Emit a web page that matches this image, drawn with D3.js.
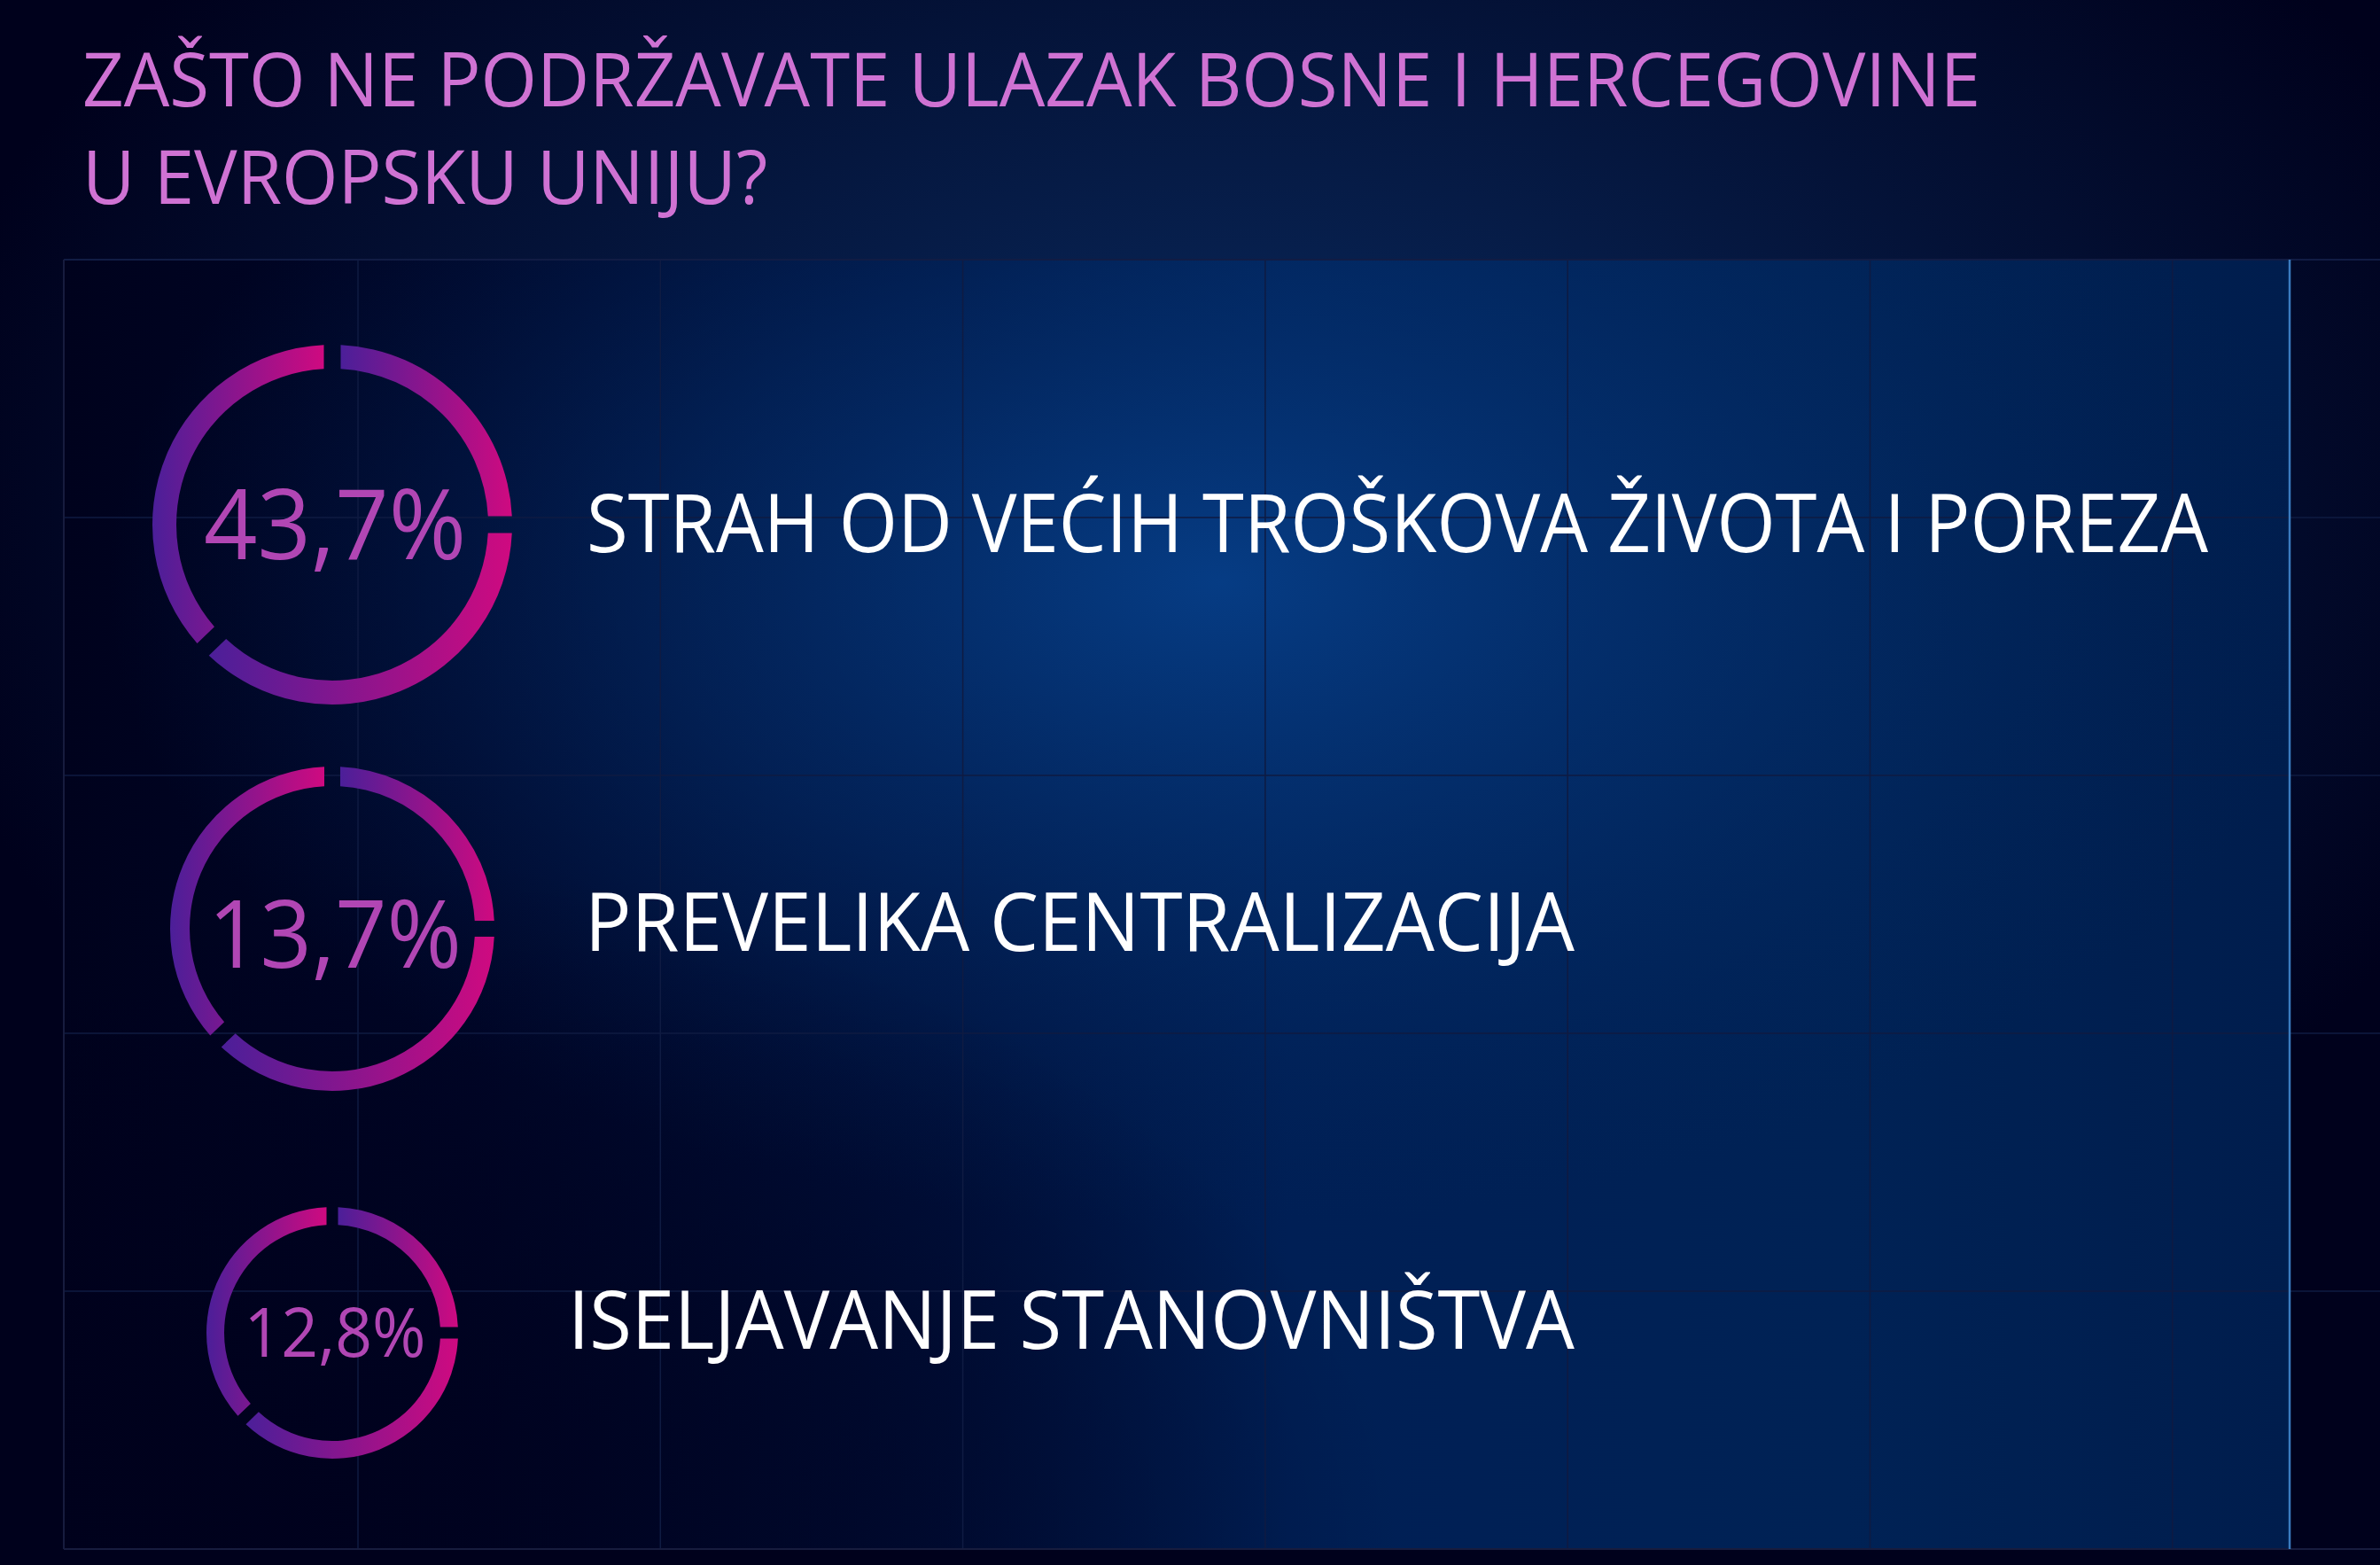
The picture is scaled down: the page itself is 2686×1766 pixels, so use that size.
<!DOCTYPE html>
<html>
<head>
<meta charset="utf-8">
<script src="https://cdn.jsdelivr.net/npm/d3@7"></script>
<style>
	html, body { margin: 0; padding: 0; background: #00011c; overflow: hidden; }
	text { font-family: 'Open Sans', 'Noto Sans', sans-serif; }
</style>
</head>
<body>
<div class="container"></div>
<script>
// data
var titleLines = ['ZAŠTO NE PODRŽAVATE ULAZAK BOSNE I HERCEGOVINE', 'U EVROPSKU UNIJU?'];
var categories = ['STRAH OD VEĆIH TROŠKOVA ŽIVOTA I POREZA', 'PREVELIKA CENTRALIZACIJA', 'ISELJAVANJE STANOVNIŠTVA'];
var shares = [43.7, 13.7, 12.8];
// decorative split of every ring (degrees), gaps at 12, 3 and ~7:30 o'clock
var ringSegments = [90, 136, 134];

// layout
var width = 2686, height = 1766;
var panel = { left: 72, right: 2584, top: 293, bottom: 1748 };
var ringX = 375;
var ringRadius = [203, 183, 142],
	ringWidth = [27, 22, 20],
	ringGap = [19, 18, 13],
	pctSize = [110, 107, 77],
	pctWidth = [296, 286, 205],
	labelX = [662, 660, 641],
	labelWidth = [1830, 1117, 1136];

var svg = d3.select('.container')
	.append('svg')
	.attr('width', width)
	.attr('height', height);

var defs = svg.append('defs');

var bg = defs.append('radialGradient')
	.attr('id', 'bg')
	.attr('cx', 0.52).attr('cy', 0.33).attr('r', 0.56);
bg.append('stop').attr('offset', 0).attr('stop-color', '#0a2c62');
bg.append('stop').attr('offset', 0.5).attr('stop-color', '#05173f');
bg.append('stop').attr('offset', 1).attr('stop-color', '#00011c');

// panel: dark on the left, blue towards the right, plus a glow at the top centre
var shade = defs.append('linearGradient')
	.attr('id', 'panelShade')
	.attr('x1', 0).attr('y1', 0).attr('x2', 1).attr('y2', 0);
shade.append('stop').attr('offset', 0).attr('stop-color', '#00021d');
shade.append('stop').attr('offset', 0.18).attr('stop-color', '#000628');
shade.append('stop').attr('offset', 0.4).attr('stop-color', '#00113d');
shade.append('stop').attr('offset', 0.55).attr('stop-color', '#001f55');
shade.append('stop').attr('offset', 0.8).attr('stop-color', '#002255');
shade.append('stop').attr('offset', 1).attr('stop-color', '#001d4d');

var glow = defs.append('radialGradient')
	.attr('id', 'panelGlow')
	.attr('cx', 0.52).attr('cy', 0.25).attr('r', 0.5);
glow.append('stop').attr('offset', 0).attr('stop-color', '#063c84').attr('stop-opacity', 1);
glow.append('stop').attr('offset', 0.5).attr('stop-color', '#04306e').attr('stop-opacity', 0.55);
glow.append('stop').attr('offset', 1).attr('stop-color', '#022458').attr('stop-opacity', 0);

var corner = defs.append('radialGradient')
	.attr('id', 'panelCorner')
	.attr('cx', 0.05).attr('cy', 1).attr('r', 0.55);
corner.append('stop').attr('offset', 0).attr('stop-color', '#00011c').attr('stop-opacity', 0.9);
corner.append('stop').attr('offset', 0.6).attr('stop-color', '#00011c').attr('stop-opacity', 0.45);
corner.append('stop').attr('offset', 1).attr('stop-color', '#00011c').attr('stop-opacity', 0);

var ringGrad = defs.append('linearGradient')
	.attr('id', 'ringGrad')
	.attr('x1', 0).attr('y1', 0).attr('x2', 1).attr('y2', 0);
ringGrad.append('stop').attr('offset', 0).attr('stop-color', '#4b1f99');
ringGrad.append('stop').attr('offset', 1).attr('stop-color', '#cf0a80');

// Background
svg.append('rect')
	.attr('width', width)
	.attr('height', height)
	.attr('fill', 'url(#bg)');

['url(#panelShade)', 'url(#panelGlow)', 'url(#panelCorner)'].forEach(function (fill) {
	svg.append('rect')
		.attr('x', panel.left)
		.attr('y', panel.top)
		.attr('width', panel.right - panel.left)
		.attr('height', panel.bottom - panel.top)
		.attr('fill', fill);
});

// Grid
var grid = svg.append('g').attr('class', 'grid');
var xGrid = d3.range(0, 7).map(i => 404 + i * 341.3);
var yGrid = d3.range(1, 6).map(i => panel.top + i * (panel.bottom - panel.top) / 5);

grid.selectAll('.vline')
	.data(xGrid)
	.enter().append('line')
	.attr('x1', d => d).attr('x2', d => d)
	.attr('y1', panel.top).attr('y2', panel.bottom)
	.attr('stroke', '#0f1b42')
	.attr('stroke-width', 1.5);

grid.selectAll('.hline')
	.data(yGrid)
	.enter().append('line')
	.attr('x1', panel.left).attr('x2', width)
	.attr('y1', d => d).attr('y2', d => d)
	.attr('stroke', (d, i) => i === yGrid.length - 1 ? '#171c3e' : '#0f1b42')
	.attr('stroke-width', (d, i) => i === yGrid.length - 1 ? 2 : 1.5);

grid.append('line')
	.attr('x1', panel.left).attr('x2', width)
	.attr('y1', panel.top).attr('y2', panel.top)
	.attr('stroke', '#111c44').attr('stroke-width', 2);
grid.append('line')
	.attr('x1', panel.left).attr('x2', panel.left)
	.attr('y1', panel.top).attr('y2', panel.bottom)
	.attr('stroke', '#171c3e').attr('stroke-width', 2);
grid.append('line')
	.attr('x1', panel.right).attr('x2', panel.right)
	.attr('y1', panel.top).attr('y2', panel.bottom)
	.attr('stroke', '#3b7bbf').attr('stroke-width', 2.5);

// Title
var title = svg.append('g').attr('id', 'title');
var titleText = title.selectAll('text')
	.data(titleLines)
	.enter().append('text')
	.attr('x', 93)
	.attr('y', (d, i) => 120 + i * 110)
	.attr('font-size', 84)
	.attr('fill', '#cf72d3')
	.text(d => d);
var squeeze = 2142 / titleText.nodes()[0].getComputedTextLength();
titleText
	.attr('textLength', function () { return this.getComputedTextLength() * squeeze; })
	.attr('lengthAdjust', 'spacingAndGlyphs');

// Rows
var y = d3.scalePoint().domain(categories).range([592, 1504]);
var yLabel = d3.scalePoint().domain(categories).range([591, 1490]);
var pct = d3.formatLocale({ decimal: ',', thousands: '.', grouping: [3], currency: ['', ' KM'] }).format('.1f');
var pie = d3.pie().sort(null).value(d => d);

var rows = svg.append('g')
	.selectAll('g')
	.data(categories)
	.enter().append('g')
	.attr('class', 'row');

rows.each(function (cat, i) {
	var row = d3.select(this);
	var arc = d3.arc()
		.innerRadius(ringRadius[i] - ringWidth[i])
		.outerRadius(ringRadius[i])
		.padRadius(ringRadius[i])
		.padAngle(ringGap[i] / ringRadius[i]);

	row.append('g')
		.attr('transform', 'translate(' + ringX + ',' + y(cat) + ')')
		.selectAll('path')
		.data(pie(ringSegments))
		.enter().append('path')
		.attr('d', arc)
		.attr('fill', 'url(#ringGrad)');

	row.append('text')
		.attr('x', ringX + 3)
		.attr('y', y(cat) + pctSize[i] * 0.357 + (i === 1 ? 6 : 0))
		.attr('text-anchor', 'middle')
		.attr('font-size', pctSize[i])
		.attr('fill', '#b146b4')
		.attr('textLength', pctWidth[i])
		.attr('lengthAdjust', 'spacingAndGlyphs')
		.text(pct(shares[i]) + '%');

	row.append('text')
		.attr('x', labelX[i])
		.attr('y', yLabel(cat) + 91 * 0.357)
		.attr('font-size', 91)
		.attr('fill', '#ffffff')
		.attr('textLength', labelWidth[i])
		.attr('lengthAdjust', 'spacingAndGlyphs')
		.text(cat);
});
</script>
</body>
</html>
